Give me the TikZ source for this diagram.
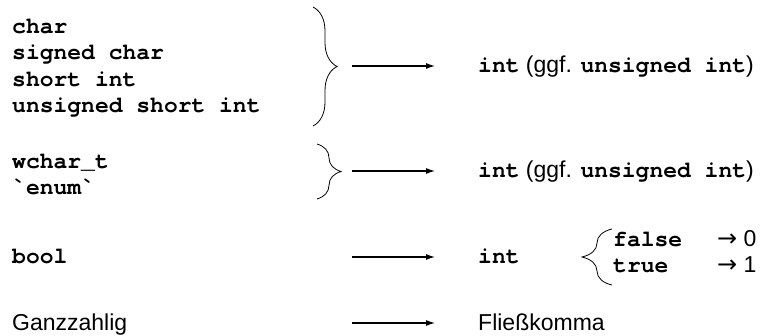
\documentclass[tikz,border=0pt]{standalone}
\usepackage{fontspec}
\setmainfont{Liberation Sans}
\setmonofont{texgyrecursor}[Extension=.otf, UprightFont=*-regular, BoldFont=*-bold]
\newfontfamily\symfont{DejaVu Sans}
\usetikzlibrary{positioning,arrows.meta,decorations.pathreplacing}

\newcommand{\kw}[1]{\texttt{\textbf{#1}}}
\newcommand{\stack}[1]{\begin{tabular}[t]{@{}l@{}}#1\end{tabular}}
\newcommand{\maps}{{\symfont\fontsize{24}{26.5}\selectfont →}}

\begin{document}
\begin{tikzpicture}[x=1pt,y=-1pt,
    font=\fontsize{23}{26.5}\selectfont,
    txt/.style={inner sep=0pt, anchor=base west},
    brc/.style={decorate, decoration={brace, amplitude=#1}, line width=0.8pt},
    conv/.style={-{Latex[length=9pt,width=6pt]}, line width=1.1pt}]

\useasboundingbox (0,0) rectangle (761,335);

% Ausgangstypen
\node[txt] (grp1) at (12,33) {\stack{\kw{char}\\ \kw{signed char}\\ \kw{short int}\\ \kw{unsigned short int}}};
\node[txt] (grp2) at (12,168) {\stack{\kw{wchar\_t}\\ \kw{\symbol{96}enum\symbol{96}}}};
\node[txt] (src3) at (12,263) {\kw{bool}};
\node[txt] (src4) at (12,330) {Ganzzahlig};

% Zieltypen
\node[txt] (res1) at (478,72) {\kw{int} (ggf. \kw{unsigned int})};
\node[txt] (res2) at (478,177) {\kw{int} (ggf. \kw{unsigned int})};
\node[txt] (res3) at (478,263) {\kw{int}};
\node[txt] (res4) at (478,330) {Fließkomma};

\node[txt] (map) at (613,246) {\begin{tabular}[t]{@{}l@{\hspace{35pt}}l@{}}
    \kw{false} & \maps{} 0\\
    \kw{true} & \maps{} 1
  \end{tabular}};

% Klammern
\draw[brc=24] (313,7) -- (313,126);
\draw[brc=24] (317,144) -- (317,199);
\draw[brc=30] (612,285) -- (612,229);

% Pfeile
\foreach \y [count=\i] in {66,171,257,323} {
  \coordinate (from\i) at (352,\y);
  \coordinate (to\i) at (435,\y);
  \draw[conv] (from\i) -- (to\i);
}
\end{tikzpicture}
\end{document}
